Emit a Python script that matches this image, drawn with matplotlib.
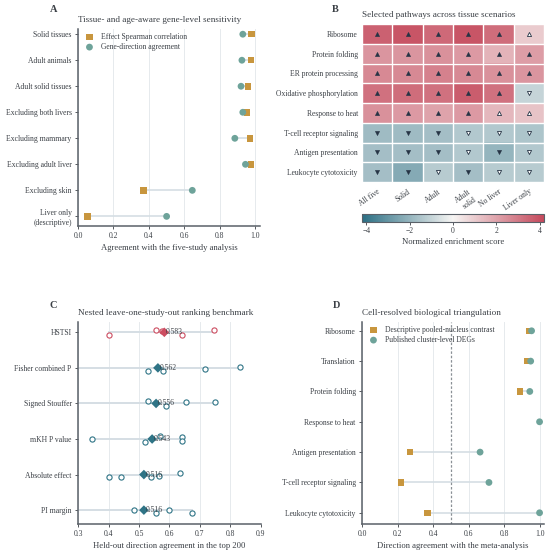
import numpy as np
import matplotlib
matplotlib.use("Agg")
import matplotlib.pyplot as plt
from matplotlib.colors import LinearSegmentedColormap

plt.rcParams['font.family'] = ['Liberation Serif', 'DejaVu Serif']
plt.rcParams['font.size'] = 5.5

# ---------------- Data ----------------
# Panel A
a_labels = ["Solid tissues", "Adult animals", "Adult solid tissues", "Excluding both livers",
            "Excluding mammary", "Excluding adult liver", "Excluding skin", "Liver only\n(descriptive)"]
a_spearman = [0.98, 0.975, 0.96, 0.955, 0.97, 0.975, 0.37, 0.055]
a_direction = [0.93, 0.925, 0.92, 0.93, 0.885, 0.945, 0.645, 0.50]

# Panel B
b_rows = ["Ribosome", "Protein folding", "ER protein processing", "Oxidative phosphorylation",
          "Response to heat", "T-cell receptor signaling", "Antigen presentation", "Leukocyte cytotoxicity"]
b_cols = ["All five", "Solid", "Adult", "Adult\nsolid", "No liver", "Liver only"]
b_nes = [
    [3.6, 3.9, 3.4, 3.9, 3.3, 1.0],
    [2.3, 2.3, 2.4, 2.2, 1.6, 2.1],
    [2.6, 2.6, 2.8, 2.6, 2.4, 2.3],
    [3.2, 3.3, 3.2, 3.7, 3.2, -1.0],
    [2.4, 2.2, 2.0, 2.2, 1.5, 1.2],
    [-1.8, -1.8, -1.7, -1.4, -1.4, -1.5],
    [-1.7, -1.7, -1.7, -1.4, -2.0, -1.4],
    [-1.7, -2.3, -1.3, -1.7, -1.3, -1.3],
]
b_sig = [
    [1, 1, 1, 1, 1, 0],
    [1, 1, 1, 1, 1, 1],
    [1, 1, 1, 1, 1, 1],
    [1, 1, 1, 1, 1, 0],
    [1, 1, 1, 1, 0, 0],
    [1, 1, 1, 0, 0, 0],
    [1, 1, 1, 0, 1, 0],
    [1, 1, 0, 1, 0, 0],
]

# Panel C
c_methods = ["HSTSI", "Fisher combined P", "Signed Stouffer", "mKH P value", "Absolute effect", "PI margin"]
c_folds = [
    [0.555, 0.40, 0.575, 0.64, 0.745],
    [0.155, 0.53, 0.58, 0.715, 0.83],
    [0.255, 0.53, 0.59, 0.655, 0.75],
    [0.345, 0.52, 0.57, 0.64, 0.64],
    [0.40, 0.44, 0.54, 0.565, 0.635],
    [0.265, 0.485, 0.555, 0.60, 0.675],
]
c_jitter = [
    [-1, 1, -0.5, 1, -1],
    [0, 1, 1, 0.5, -0.5],
    [0, -1, 1, -0.5, -0.5],
    [0, 1, -1, -0.8, 0.8],
    [1, 1, 1, 0.5, -0.5],
    [0, 0, 1, -0.2, 1],
]

# Panel D
d_labels = ["Ribosome", "Translation", "Protein folding", "Response to heat",
            "Antigen presentation", "T-cell receptor signaling", "Leukocyte cytotoxicity"]
d_pooled = [0.94, 0.93, 0.89, np.nan, 0.27, 0.22, 0.37]
d_cluster = [0.955, 0.95, 0.945, 1.0, 0.665, 0.715, 1.0]

# ---------------- Style ----------------
GOLD = "#c8963e"
TEAL = "#6ea39a"
RED = "#cc4d61"
DTEAL = "#2f7486"
LINE = "#d5dee4"
GRID = "#e6eaed"
TXT = "#3a3f45"
SPINE = "#5a6068"

fig = plt.figure(figsize=(5.5, 5.53), dpi=100)
W, H = 550, 553


def ax_px(l, t, r, b):
    return fig.add_axes([l / W, 1 - b / H, (r - l) / W, (b - t) / H])


def style(ax):
    for s in ["top", "right"]:
        ax.spines[s].set_visible(False)
    for s in ["left", "bottom"]:
        ax.spines[s].set_color(SPINE)
        ax.spines[s].set_linewidth(1.1)
    ax.tick_params(colors=TXT, labelsize=5.5, length=2.5, width=0.6, pad=2)
    ax.xaxis.grid(True, color=GRID, lw=0.7)
    ax.set_axisbelow(True)


# ---------- Panel A ----------
axA = ax_px(78, 29, 260, 226)
style(axA)
ya = np.arange(len(a_labels))
for y, s, d in zip(ya, a_spearman, a_direction):
    axA.plot([s, d], [y, y], color=LINE, lw=1.2, zorder=1)
axA.scatter(a_spearman, ya, marker='s', s=22, color=GOLD, zorder=3, label="Effect Spearman correlation", edgecolors='none')
axA.scatter(a_direction, ya, marker='o', s=24, color=TEAL, zorder=3, label="Gene-direction agreement", edgecolors='none')
axA.set_yticks(ya)
axA.set_yticklabels(a_labels)
axA.set_ylim(len(a_labels) - 1 + 0.37, -0.2)
axA.set_xlim(0, 1.027)
axA.set_xticks([0, 0.2, 0.4, 0.6, 0.8, 1.0])
axA.set_xlabel("Agreement with the five-study analysis", fontsize=6.2, color=TXT, labelpad=3)
axA.set_title("Tissue- and age-aware gene-level sensitivity", fontsize=6.6, color=TXT, pad=5, loc='left')
axA.legend(loc="upper left", frameon=False, fontsize=5.5, handletextpad=0.5, borderaxespad=0.1,
           labelspacing=0.3, bbox_to_anchor=(0.0, 1.0), labelcolor=TXT)
fig.text(50 / W, 1 - 10 / H, "A", fontsize=7.5, fontweight='bold', color=TXT, va='center')

# ---------- Panel B ----------
axB = ax_px(362, 24, 544, 182)
cmap = LinearSegmentedColormap.from_list("nes", ["#2b6f84", "#f6f5f3", "#c5495c"])
nes = np.array(b_nes)
vlim = 4.2
im = axB.imshow(nes, cmap=cmap, vmin=-vlim, vmax=vlim, aspect='auto')
for i in range(nes.shape[0]):
    for j in range(nes.shape[1]):
        m = '^' if nes[i, j] > 0 else 'v'
        if b_sig[i][j]:
            axB.plot(j, i, marker=m, ms=3.0, color="#263445", mec="#263445", mew=0.4)
        else:
            axB.plot(j, i, marker=m, ms=3.0, color="white", mec="#263445", mew=0.6)
axB.set_xticks(np.arange(nes.shape[1] + 1) - 0.5, minor=True)
axB.set_yticks(np.arange(nes.shape[0] + 1) - 0.5, minor=True)
axB.grid(which='minor', color='white', lw=1.0)
axB.tick_params(which='minor', length=0)
axB.tick_params(which='major', length=0, colors=TXT, labelsize=5.5, pad=3)
axB.tick_params(axis='x', pad=4)
axB.set_xticks(np.arange(nes.shape[1]))
axB.set_xticklabels(b_cols, rotation=35, ha='right', rotation_mode='anchor')
axB.set_yticks(np.arange(nes.shape[0]))
axB.set_yticklabels(b_rows)
for s in axB.spines.values():
    s.set_visible(False)
axB.set_title("Selected pathways across tissue scenarios", fontsize=6.6, color=TXT, pad=5, loc='left')
fig.text(332 / W, 1 - 10 / H, "B", fontsize=7.5, fontweight='bold', color=TXT, va='center')

cax = ax_px(362, 214, 544, 222)
cb = fig.colorbar(im, cax=cax, orientation='horizontal')
cb.set_ticks([-4, -2, 0, 2, 4])
cb.set_ticklabels(["\u22124", "\u22122", "0", "2", "4"])
cb.ax.tick_params(labelsize=5.5, colors=TXT, length=2, width=0.6, pad=1.5)
cb.outline.set_edgecolor(SPINE)
cb.outline.set_linewidth(0.8)
cb.set_label("Normalized enrichment score", fontsize=6.2, color=TXT, labelpad=2)

# ---------- Panel C ----------
axC = ax_px(78, 322, 261, 524)
style(axC)
yc = np.arange(len(c_methods))
for i, (vals, jit) in enumerate(zip(c_folds, c_jitter)):
    vals = np.array(vals)
    col = RED if i == 0 else DTEAL
    axC.plot([vals.min(), vals.max()], [i, i], color=LINE, lw=1.4, zorder=1)
    axC.scatter(vals, i + 0.075 * np.array(jit), s=14, facecolors='white', edgecolors=col, linewidths=0.8, zorder=3)
    mu = vals.mean()
    axC.scatter([mu], [i], marker='D', s=24, color=col, zorder=4, edgecolors='none')
    axC.text(mu + 0.006, i, f"{mu:.3f}", fontsize=5.5, color=TXT, va='center', ha='left', zorder=5)
axC.set_yticks(yc)
axC.set_yticklabels(c_methods)
axC.set_ylim(len(c_methods) - 1 + 0.39, -0.29)
axC.set_xlim(0.3, 0.9)
axC.set_xticks([0.3, 0.4, 0.5, 0.6, 0.7, 0.8, 0.9])
axC.set_xlabel("Held-out direction agreement in the top 200", fontsize=6.2, color=TXT, labelpad=3)
axC.set_title("Nested leave-one-study-out ranking benchmark", fontsize=6.6, color=TXT, pad=5, loc='left')
fig.text(50 / W, 1 - 305 / H, "C", fontsize=7.5, fontweight='bold', color=TXT, va='center')

# ---------- Panel D ----------
axD = ax_px(362, 322, 544, 524)
style(axD)
yd = np.arange(len(d_labels))
for y, p, c in zip(yd, d_pooled, d_cluster):
    if not np.isnan(p):
        axD.plot([p, c], [y, y], color=LINE, lw=1.2, zorder=1)
axD.axvline(0.5, color="#8a9096", lw=0.9, ls=(0, (2, 1.5)), zorder=2)
axD.scatter(d_pooled, yd, marker='s', s=22, color=GOLD, zorder=3, label="Descriptive pooled-nucleus contrast", edgecolors='none')
axD.scatter(d_cluster, yd, marker='o', s=24, color=TEAL, zorder=3, label="Published cluster-level DEGs", edgecolors='none')
axD.set_yticks(yd)
axD.set_yticklabels(d_labels)
axD.set_ylim(len(d_labels) - 1 + 0.37, -0.29)
axD.set_xlim(0, 1.025)
axD.set_xticks([0, 0.2, 0.4, 0.6, 0.8, 1.0])
axD.set_xlabel("Direction agreement with the meta-analysis", fontsize=6.2, color=TXT, labelpad=3)
axD.set_title("Cell-resolved biological triangulation", fontsize=6.6, color=TXT, pad=5, loc='left')
axD.legend(loc="upper left", frameon=False, fontsize=5.5, handletextpad=0.5, borderaxespad=0.1,
           labelspacing=0.3, bbox_to_anchor=(0.0, 1.0), labelcolor=TXT)
fig.text(333 / W, 1 - 305 / H, "D", fontsize=7.5, fontweight='bold', color=TXT, va='center')

fig.savefig("out.png", dpi=100)
